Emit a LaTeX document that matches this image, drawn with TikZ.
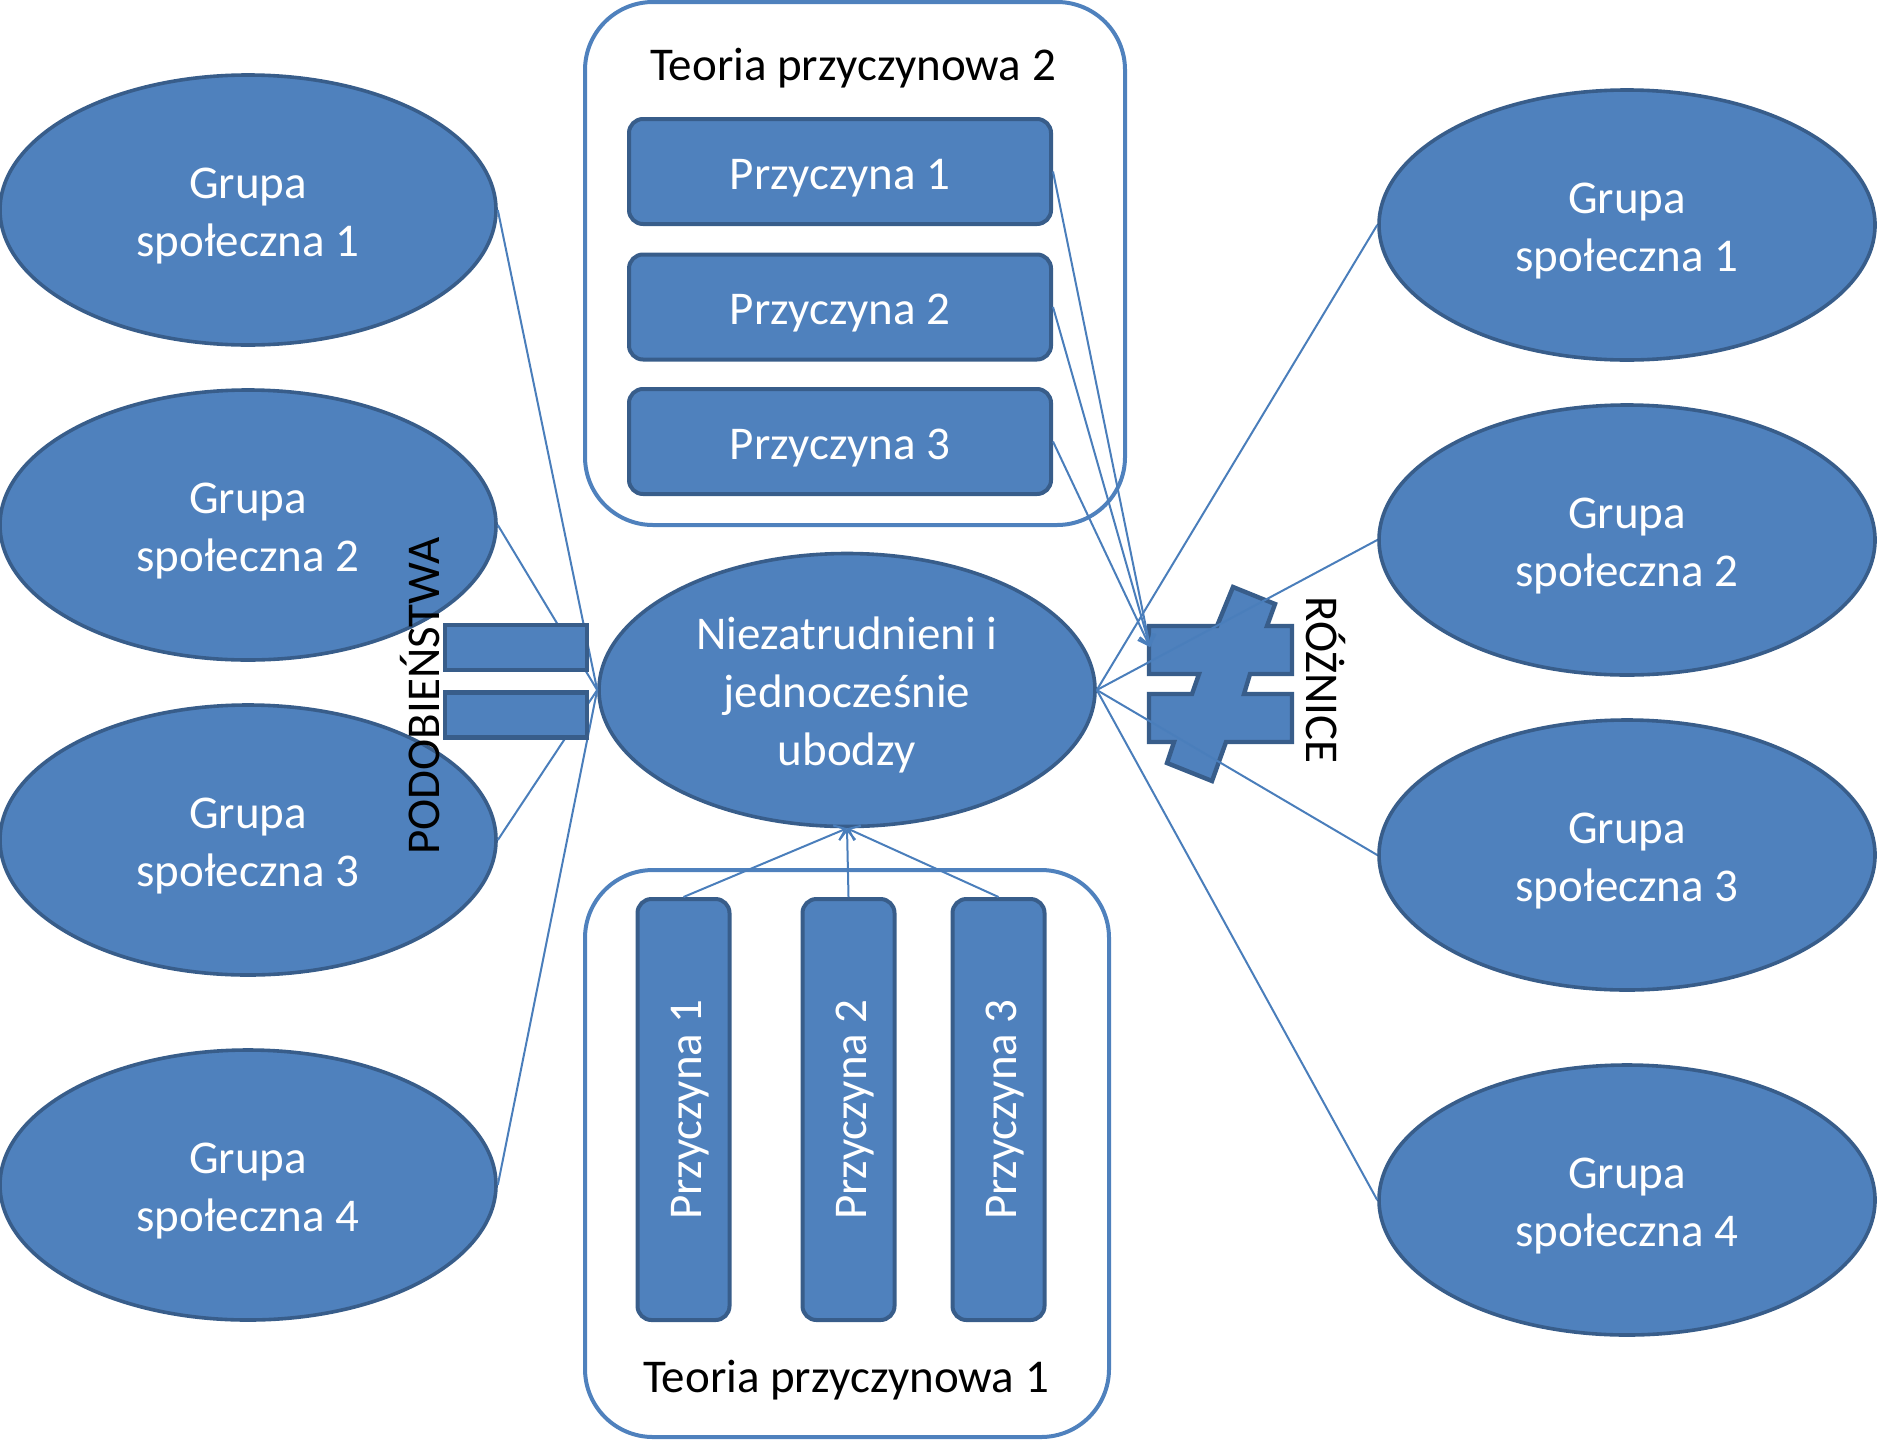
\documentclass[tikz,border=0pt]{standalone}
\usepackage{fontspec}
\setmainfont{Carlito}
\usetikzlibrary{shapes.geometric,arrows.meta}
\definecolor{fillb}{HTML}{4F81BD}
\definecolor{darkb}{HTML}{385D8A}
\definecolor{lineb}{HTML}{4A7EBB}
\newcommand{\topstrutx}{\rule{0pt}{21.5pt}}
\begin{document}
\begin{tikzpicture}[x=0.5pt,y=-0.5pt,
  every node/.style={font=\fontsize{23.5}{29}\selectfont},
  lowtext/.style={execute at begin node={\topstrutx}},
  grp/.style={ellipse, fill=fillb, draw=darkb, line width=1.8pt, text=white, align=center,
    minimum width=248pt, minimum height=135pt, inner sep=0pt},
  hbox/.style={rectangle, rounded corners=7pt, fill=fillb, draw=darkb, line width=2pt, text=white,
    minimum width=211pt, minimum height=52.5pt, inner sep=0pt, lowtext},
  vbox/.style={rectangle, rounded corners=7pt, fill=fillb, draw=darkb, line width=2pt, text=white,
    minimum width=46pt, minimum height=210.5pt, inner sep=0pt},
  vtext/.style={rotate=90, text=white, inner sep=0pt, lowtext},
  container/.style={draw=fillb, line width=2pt, rounded corners=34pt},
  bar/.style={rectangle, fill=fillb, draw=darkb, line width=2.2pt, minimum width=71pt, minimum height=22.5pt, inner sep=0pt},
  conn/.style={draw=lineb, line width=1pt},
  arr/.style={conn, -{Straight Barb[length=5pt,width=8pt]}},
  lbl/.style={text=black, inner sep=0pt}
]
\useasboundingbox (0,0) rectangle (1882,1440);

% containers
\draw[container] (585,2) rectangle (1125,525);
\draw[container] (585,870) rectangle (1109,1437);
\node[lbl] (t2) at (853,68) {Teoria przyczynowa 2};
\node[lbl] (t1) at (846,1380) {Teoria przyczynowa 1};

% center
\node[grp, minimum height=136.5pt] (c) at (847,690) {\topstrutx Niezatrudnieni i\\jednocześnie\\ubodzy};

% left groups
\node[grp] (l1) at (248,210) {\topstrutx Grupa\\społeczna 1};
\node[grp] (l2) at (248,525) {\topstrutx Grupa\\społeczna 2};
\node[grp] (l3) at (248,840) {\topstrutx Grupa\\społeczna 3};
\node[grp] (l4) at (248,1185) {\topstrutx Grupa\\społeczna 4};

% right groups
\node[grp] (r1) at (1627,225) {\topstrutx Grupa\\społeczna 1};
\node[grp] (r2) at (1627,540) {\topstrutx Grupa\\społeczna 2};
\node[grp] (r3) at (1627,855) {\topstrutx Grupa\\społeczna 3};
\node[grp] (r4) at (1627,1200) {\topstrutx Grupa\\społeczna 4};

% top causes
\node[hbox] (p1) at (840,171.5) {Przyczyna 1};
\node[hbox] (p2) at (840,307) {Przyczyna 2};
\node[hbox] (p3) at (840,441.5) {Przyczyna 3};

% bottom causes
\node[vbox] (q1) at (683.5,1109.5) {};
\node[vbox] (q2) at (848.5,1109.5) {};
\node[vbox] (q3) at (998.5,1109.5) {};
\node[vtext] (q1t) at (q1) {Przyczyna 1};
\node[vtext] (q2t) at (q2) {Przyczyna 2};
\node[vtext] (q3t) at (q3) {Przyczyna 3};

% left connectors (behind the equals bars)
\draw[conn] (l1.east) -- (c.west);
\draw[conn] (l2.east) -- (c.west);
\draw[conn] (l3.east) -- (c.west);
\draw[conn] (l4.east) -- (c.west);

% equals sign
\node[bar] (eq1) at (516,647.5) {};
\node[bar] (eq2) at (516,715) {};
\node[lbl, rotate=90] (pod) at (420,696) {PODOBIEŃSTWA};

% not-equal sign
\draw[fill=fillb, draw=darkb, line width=2.2pt, line join=miter]
  (1233,587) -- (1275,604) -- (1267,626) -- (1292,626) -- (1292,674) -- (1250,674)
  -- (1244,694) -- (1292,694) -- (1292,742) -- (1226,742) -- (1212,781) -- (1167,763)
  -- (1174,742) -- (1149,742) -- (1149,694) -- (1192,694) -- (1199,674) -- (1149,674)
  -- (1149,626) -- (1217,626) -- cycle;
\coordinate (ne) at (1150,647);
\node[lbl, rotate=-90] (roz) at (1326,680) {RÓŻNICE};

% right connectors
\draw[conn] (c.east) -- (r1.west);
\draw[conn] (c.east) -- (r2.west);
\draw[conn] (c.east) -- (r3.west);
\draw[conn] (c.east) -- (r4.west);

% top arrows
\draw[arr] (p1.east) -- (ne);
\draw[arr] (p2.east) -- (ne);
\draw[arr] (p3.east) -- (ne);

% bottom arrows
\draw[arr] (q1.north) -- (c.south);
\draw[arr] (q2.north) -- (c.south);
\draw[arr] (q3.north) -- (c.south);
\end{tikzpicture}
\end{document}
